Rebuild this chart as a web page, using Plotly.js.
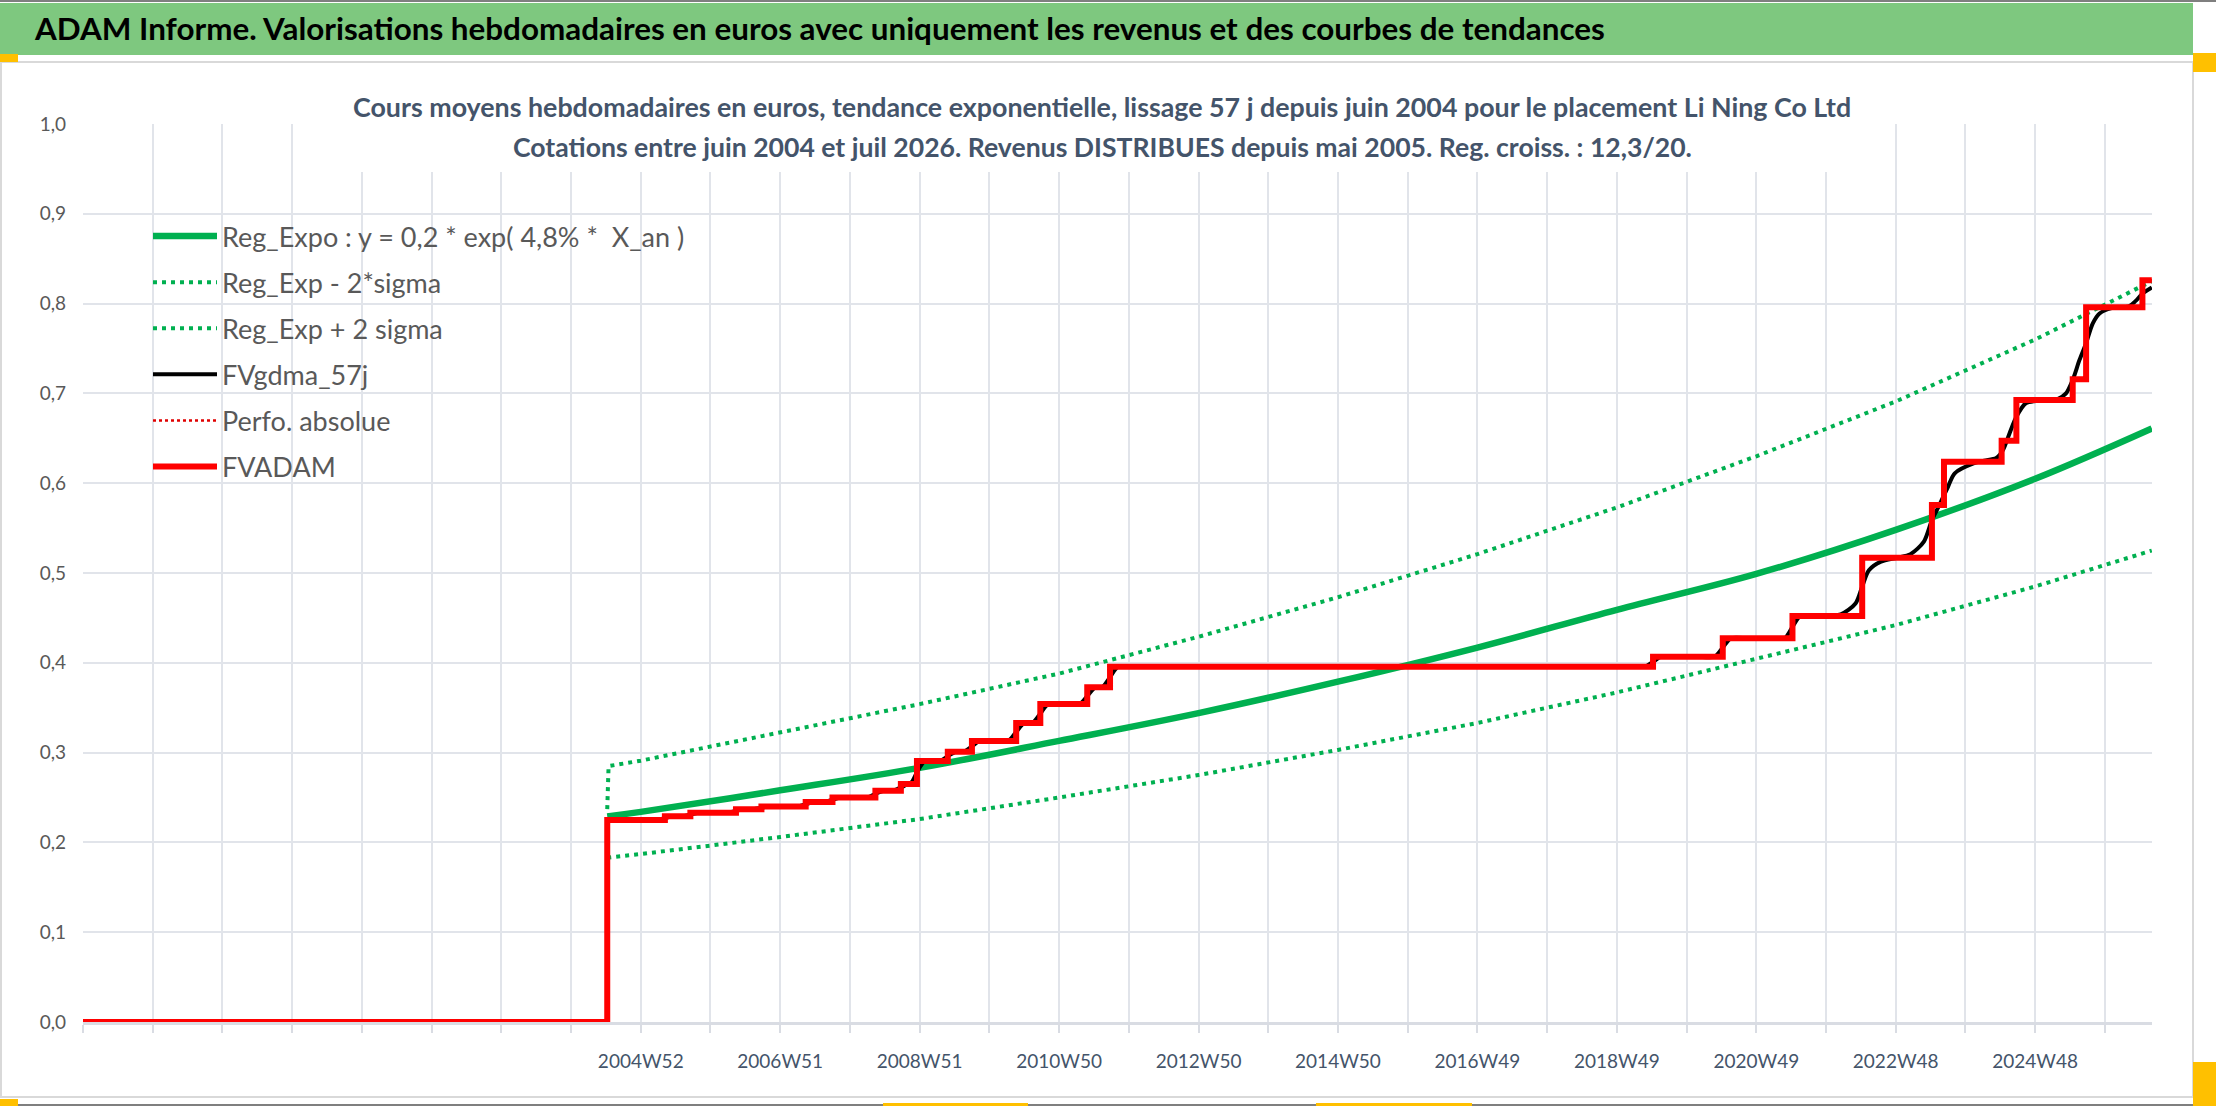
<!DOCTYPE html>
<html>
<head>
<meta charset="utf-8">
<script src="https://cdn.plot.ly/plotly-3.0.1.min.js"></script>
<style>
  html, body { margin: 0; padding: 0; background: #fff; }
  #chart { width: 2216px; height: 1106px; }
</style>
</head>
<body>
<div id="chart"></div>
<script>
// week labels shown under the x axis (one every 104 weeks)
const weekLabels = ['2004W52', '2006W51', '2008W51', '2010W50', '2012W50', '2014W50',
  '2016W49', '2018W49', '2020W49', '2022W48', '2024W48'];

// FVADAM : step line (value kept until the next date)
const stepDates = ['1996-12-30', '2004-06-28', '2005-04-25', '2005-09-05', '2006-05-01', '2006-09-11',
  '2007-04-30', '2007-09-17', '2008-04-28', '2008-09-08', '2008-12-01', '2009-05-11', '2009-09-14',
  '2010-05-03', '2010-09-06', '2011-05-09', '2011-09-05', '2019-06-10', '2020-06-08', '2021-06-07',
  '2022-06-06', '2023-06-05', '2023-08-07', '2024-06-03', '2024-08-19', '2025-06-09', '2025-08-18',
  '2026-06-08', '2026-07-27'];
const fvadam = [0, 0.225, 0.229, 0.233, 0.237, 0.240, 0.245, 0.250, 0.2576, 0.265, 0.2906, 0.301, 0.313,
  0.333, 0.354, 0.3727, 0.3957, 0.4068, 0.4272, 0.4521, 0.517, 0.5757, 0.624, 0.6474, 0.6927, 0.7157,
  0.796, 0.826, 0.826];

// FVgdma_57j : smoothed curve, read around each step
const smoothDates = ['2004-06-28',
  '2005-03-14', '2005-04-25', '2005-06-06', '2005-07-25', '2005-09-05', '2005-10-17',
  '2006-03-20', '2006-05-01', '2006-06-12', '2006-07-31', '2006-09-11', '2006-10-23',
  '2007-03-19', '2007-04-30', '2007-06-11', '2007-08-06', '2007-09-17', '2007-10-29',
  '2008-03-17', '2008-04-28', '2008-06-09', '2008-07-28', '2008-09-08', '2008-10-13',
  '2008-11-03', '2008-12-01', '2009-01-12', '2009-03-30', '2009-05-11', '2009-06-22',
  '2009-08-03', '2009-09-14', '2009-10-26', '2010-03-22', '2010-05-03', '2010-06-14',
  '2010-07-26', '2010-09-06', '2010-10-18', '2011-03-28', '2011-05-09', '2011-06-20',
  '2011-07-25', '2011-09-05', '2011-10-17', '2012-01-16', '2019-01-28',
  '2019-04-29', '2019-06-10', '2019-07-22', '2019-10-21', '2020-01-27',
  '2020-04-27', '2020-06-08', '2020-07-20', '2020-10-19', '2021-01-25', '2021-04-26', '2021-06-07', '2021-07-19',
  '2021-10-18', '2022-02-14', '2022-05-02', '2022-06-06', '2022-07-11', '2022-09-12', '2022-12-05',
  '2023-02-13', '2023-04-24', '2023-06-05', '2023-07-10', '2023-08-28', '2023-10-02', '2024-01-08',
  '2024-03-04', '2024-05-06', '2024-06-10', '2024-07-15', '2024-08-19', '2024-10-07', '2024-12-16',
  '2025-03-24', '2025-05-05', '2025-06-09', '2025-07-14', '2025-08-18', '2025-09-22', '2025-10-27',
  '2025-12-29', '2026-03-30', '2026-05-04', '2026-06-08', '2026-07-27'];
const fvgdma = [0.225,
  0.225, 0.227, 0.229, 0.229, 0.231, 0.233,
  0.233, 0.235, 0.237, 0.237, 0.2385, 0.240,
  0.240, 0.2425, 0.245, 0.245, 0.2475, 0.250,
  0.250, 0.254, 0.2576, 0.2576, 0.261, 0.265,
  0.267, 0.278, 0.2906, 0.2906, 0.296, 0.301,
  0.301, 0.307, 0.313, 0.313, 0.323, 0.333,
  0.333, 0.3435, 0.354, 0.354, 0.363, 0.3727,
  0.3727, 0.384, 0.3957, 0.3957, 0.3957,
  0.3957, 0.401, 0.4068, 0.4068, 0.4068,
  0.4068, 0.417, 0.4272, 0.4272, 0.4272, 0.4272, 0.440, 0.4521,
  0.4521, 0.454, 0.466, 0.485, 0.503, 0.5126, 0.517,
  0.521, 0.535, 0.559, 0.574, 0.596, 0.611, 0.622,
  0.625, 0.628, 0.637, 0.656, 0.674, 0.689, 0.692,
  0.694, 0.700, 0.715, 0.737, 0.756, 0.778, 0.789,
  0.795, 0.797, 0.803, 0.811, 0.818];

// exponential regression and its +/- 2 sigma bands
const regDates = ['2004-06-28', '2004-12-20', '2006-12-18', '2008-12-15', '2010-12-13', '2012-12-10',
  '2014-12-08', '2016-12-05', '2018-12-03', '2020-11-30', '2022-11-28', '2024-11-25', '2026-07-27'];
const regExpo = [0.229, 0.234, 0.258, 0.283, 0.313, 0.344, 0.379, 0.417, 0.459, 0.499, 0.548, 0.605, 0.661];
const regLow = [0.183, 0.187, 0.206, 0.226, 0.250, 0.275, 0.303, 0.333, 0.367, 0.404, 0.442, 0.485, 0.525];
const upDates = ['2004-06-28', '2004-07-05', '2004-12-20', '2006-12-18', '2008-12-15', '2010-12-13',
  '2012-12-10', '2014-12-08', '2016-12-05', '2018-12-03', '2020-11-30', '2022-11-28', '2024-11-25', '2026-07-27'];
const regHigh = [0.237, 0.285, 0.291, 0.323, 0.354, 0.388, 0.429, 0.473, 0.521, 0.573, 0.630, 0.691, 0.760, 0.825];

const legendNames = ['Reg_Expo : y = 0,2 * exp( 4,8% *\u00a0\u00a0X_an )', 'Reg_Exp - 2*sigma',
  'Reg_Exp + 2 sigma', 'FVgdma_57j', 'Perfo. absolue', 'FVADAM'];

// ISO week label -> monday (ms)
function isoWeekMonday(label) {
  const [y, w] = label.split('W').map(Number);
  const jan4 = Date.UTC(y, 0, 4);
  const dow = (new Date(jan4).getUTCDay() + 6) % 7;
  return jan4 - dow * 864e5 + (w - 1) * 7 * 864e5;
}

// one grid line every 52 weeks, a label every second one
const yearMs = 364 * 864e5;
const gridStart = isoWeekMonday(weekLabels[0]) - 8 * yearMs;
const tickVals = [], tickText = [];
for (let k = 0; k < 30; k++) {
  tickVals.push(gridStart + k * yearMs);
  const j = (k - 8) / 2;
  tickText.push(k >= 8 && Number.isInteger(j) && j < weekLabels.length ? weekLabels[j] : '');
}

const GREEN = '#00b050';
const FONT = 'Lato, "Open Sans", sans-serif';

const traces = [
  { x: regDates, y: regExpo, name: legendNames[0], mode: 'lines', line: { color: GREEN, width: 6.5, shape: 'spline' } },
  { x: regDates, y: regLow, name: legendNames[1], mode: 'lines', line: { color: GREEN, width: 4, dash: '4px,5px' } },
  { x: upDates, y: regHigh, name: legendNames[2], mode: 'lines', line: { color: GREEN, width: 4, dash: '4px,5px' } },
  { x: smoothDates, y: fvgdma, name: legendNames[3], mode: 'lines', line: { color: '#000000', width: 4, shape: 'spline', smoothing: 0.8 } },
  { x: stepDates, y: fvadam, name: legendNames[4], mode: 'lines', line: { color: '#e00000', width: 2.5, dash: 'dot', shape: 'hv' } },
  { x: stepDates, y: fvadam, name: legendNames[5], mode: 'lines', line: { color: '#ff0000', width: 6, shape: 'hv' } }
];
traces.forEach((t, i) => { t.legendgroup = 'g' + i; t.cliponaxis = false; t.hoverinfo = 'skip'; });

// page geometry in pixels
const W = 2216, H = 1106, L = 83, R = 2152, T = 124, B = 1022;
const px = x => (x - L) / (R - L);
const py = y => (B - y) / (B - T);
function box(x0, y0, x1, y1, extra) {
  return Object.assign({ type: 'rect', xref: 'paper', yref: 'paper',
    x0: px(x0), x1: px(x1), y0: py(y1), y1: py(y0), line: { width: 0 } }, extra);
}
const YELLOW = '#ffc000';
const shapes = [
  box(0, 3, 2193, 55, { fillcolor: '#7ec87f', layer: 'below' }),
  box(1, 62, 2193, 1097, { line: { color: '#d9d9d9', width: 2 }, layer: 'below' }),
  { type: 'line', xref: 'paper', yref: 'paper', x0: px(0), x1: px(W), y0: py(1), y1: py(1), line: { color: '#7f7f7f', width: 2 } },
  { type: 'line', xref: 'paper', yref: 'paper', x0: px(0), x1: px(W), y0: py(1105), y1: py(1105), line: { color: '#7f7f7f', width: 2 } },
  box(340, 66, 1870, 172, { fillcolor: '#ffffff', layer: 'above' }),
  box(0, 54, 18, 62, { fillcolor: YELLOW }),
  box(2193, 53, 2216, 72, { fillcolor: YELLOW }),
  box(0, 1099, 18, 1106, { fillcolor: YELLOW }),
  box(883, 1103, 1028, 1106, { fillcolor: YELLOW }),
  box(1316, 1103, 1472, 1106, { fillcolor: YELLOW }),
  box(2193, 1062, 2216, 1106, { fillcolor: YELLOW })
];

const TITLE_COLOR = '#44546a';
const annotations = [
  { xref: 'paper', yref: 'paper', x: px(1102), y: py(107), xanchor: 'center', yanchor: 'middle', showarrow: false,
    text: '<b>Cours moyens hebdomadaires en euros, tendance exponentielle, lissage 57 j depuis juin 2004 pour le placement Li Ning Co Ltd</b>',
    font: { family: FONT, size: 26.8, color: TITLE_COLOR } },
  { xref: 'paper', yref: 'paper', x: px(1102), y: py(147), xanchor: 'center', yanchor: 'middle', showarrow: false,
    text: '<b>Cotations entre juin 2004 et juil 2026. Revenus DISTRIBUES depuis mai 2005. Reg. croiss. : 12,3/20.</b>',
    font: { family: FONT, size: 26.6, color: TITLE_COLOR } }
];

const layout = {
  width: W, height: H,
  margin: { l: L, r: W - R, t: T, b: H - B, pad: 0 },
  paper_bgcolor: '#ffffff',
  plot_bgcolor: 'rgba(0,0,0,0)',
  separators: ', ',
  font: { family: FONT, color: '#595959' },
  title: {
    text: '<b>ADAM Informe. Valorisations hebdomadaires en euros avec uniquement les revenus et des courbes de tendances</b>',
    xref: 'container', yref: 'container', x: 35 / W, xanchor: 'left', y: 1 - 29 / H, yanchor: 'middle',
    font: { family: FONT, size: 31.4, color: '#000000' }
  },
  xaxis: {
    type: 'date',
    range: [gridStart, '2026-07-28'],
    tickmode: 'array', tickvals: tickVals, ticktext: tickText,
    showgrid: true, gridcolor: '#e1e4ea', gridwidth: 2,
    showline: true, linecolor: '#d9dce3', linewidth: 3,
    ticks: 'outside', ticklen: 8, tickcolor: '#d9dce3', tickwidth: 2,
    ticklabelstandoff: 12,
    tickfont: { family: FONT, size: 19, color: TITLE_COLOR },
    zeroline: false, layer: 'below traces', fixedrange: true
  },
  yaxis: {
    range: [0, 1.0], dtick: 0.1, tick0: 0, tickformat: '.1f',
    showgrid: true, gridcolor: '#e1e4ea', gridwidth: 2,
    showline: false, zeroline: false, ticks: '',
    ticklabelstandoff: 16,
    tickfont: { family: FONT, size: 19, color: '#595959' },
    fixedrange: true
  },
  showlegend: true,
  legend: {
    x: px(148), y: py(212), xanchor: 'left', yanchor: 'top',
    bgcolor: 'rgba(255,255,255,0)', borderwidth: 0,
    font: { family: FONT, size: 27, color: '#595959' },
    itemwidth: 64,
    tracegroupgap: 8, itemclick: false, itemdoubleclick: false
  },
  shapes: shapes,
  annotations: annotations
};

Plotly.newPlot('chart', traces, layout, { displayModeBar: false, responsive: false, staticPlot: true });
</script>
</body>
</html>
